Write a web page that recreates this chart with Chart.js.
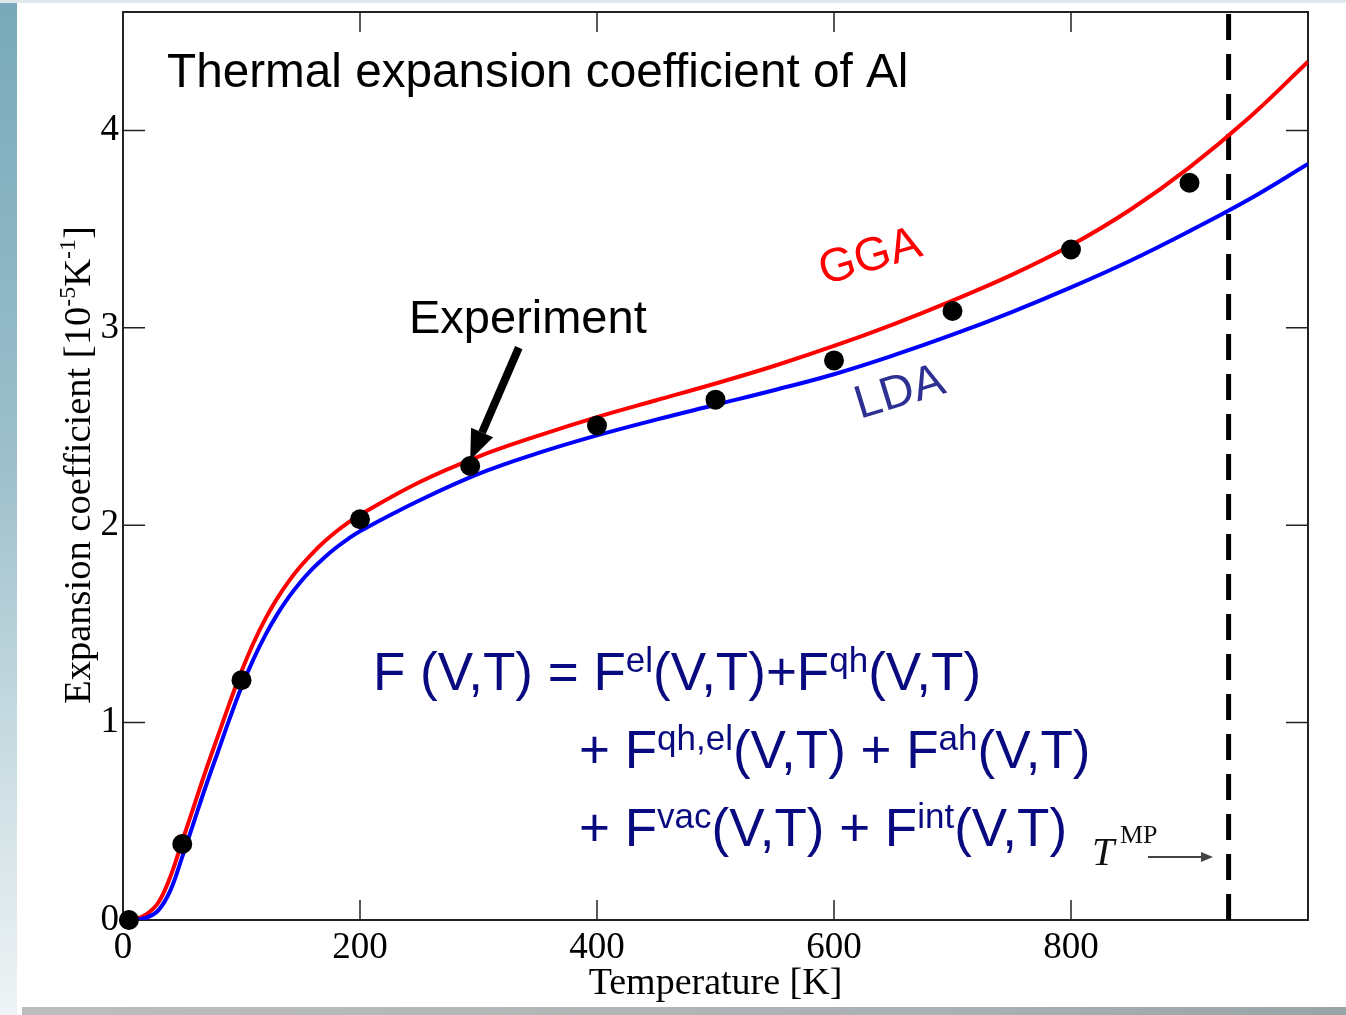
<!DOCTYPE html>
<html>
<head>
<meta charset="utf-8">
<script src="https://cdn.jsdelivr.net/npm/chart.js@4.4.1/dist/chart.umd.min.js"></script>
<style>
    html, body { margin: 0; padding: 0; background: #fff; }
    #page { position: relative; width: 1346px; height: 1015px; overflow: hidden; background: #fff; }
    .edge-left { position: absolute; left: 0; top: 0; width: 17px; height: 1015px;
        background: linear-gradient(to bottom, #78a9ba 0%, #9cbfcb 45%, #d3e2e7 80%, #eef3f5 100%); }
    .edge-top { position: absolute; left: 0; top: 0; width: 1346px; height: 3px; background: #dfe8eb; }
    .edge-bottom { position: absolute; left: 22px; top: 1007px; width: 1324px; height: 8px;
        background: linear-gradient(to right, #bdbdbd, #aab1b3 70%, #98a4a8); }
    canvas { position: absolute; left: 0; top: 0; }
</style>
</head>
<body>
<div id="page">
    <div class="edge-left"></div>
    <div class="edge-top"></div>
    <div class="edge-bottom"></div>
    <canvas id="alphaChart" width="1346" height="1015"></canvas>
</div>
<script>
// temperatures [K] where the calculated curves are sampled
const temps = [0, 10, 20, 30, 40, 50, 60, 70, 80, 90, 100, 110, 120, 130, 140, 150, 160, 170, 180, 190, 200,
    250, 300, 350, 400, 450, 500, 550, 600, 650, 700, 750, 800, 850, 900, 950, 1000];
// expansion coefficient [1e-5 1/K]
const ggaAlpha = [0, 0.003, 0.03, 0.09, 0.22, 0.40, 0.58, 0.76, 0.93, 1.10, 1.26, 1.402, 1.524, 1.628, 1.717,
    1.793, 1.859, 1.917, 1.968, 2.013, 2.053, 2.218, 2.348, 2.453, 2.548, 2.633, 2.718, 2.808, 2.908, 3.018,
    3.138, 3.268, 3.418, 3.598, 3.813, 4.063, 4.348];
const ldaAlpha = [0, 0.001, 0.012, 0.05, 0.15, 0.32, 0.50, 0.68, 0.85, 1.02, 1.18, 1.32, 1.442, 1.547, 1.637,
    1.714, 1.78, 1.837, 1.887, 1.931, 1.97, 2.125, 2.26, 2.365, 2.455, 2.535, 2.61, 2.685, 2.765, 2.86,
    2.965, 3.08, 3.205, 3.34, 3.49, 3.65, 3.83];

const expTemps = [5, 50, 100, 200, 293, 400, 500, 600, 700, 800, 900];
const expAlpha = [0, 0.385, 1.215, 2.03, 2.30, 2.505, 2.636, 2.835, 3.085, 3.397, 3.735];

const meltTemp = 933;
const xTickValues = [0, 200, 400, 600, 800];
const yTickValues = [0, 1, 2, 3, 4];

const SERIF = '"Liberation Serif", "Times New Roman", serif';
const SANS = '"Liberation Sans", Arial, sans-serif';

function toPoints(xs, ys) {
    return xs.map((x, i) => ({ x: x, y: ys[i] }));
}

function drawRich(ctx, parts, x, y, size, supSize, rise, family) {
    let cx = x;
    parts.forEach(([txt, sup]) => {
        ctx.font = `${sup ? supSize : size}px ${family}`;
        ctx.fillText(txt, cx, sup ? y - rise : y);
        cx += ctx.measureText(txt).width;
    });
    return cx - x;
}

function richWidth(ctx, parts, size, supSize, family) {
    let w = 0;
    parts.forEach(([txt, sup]) => {
        ctx.font = `${sup ? supSize : size}px ${family}`;
        w += ctx.measureText(txt).width;
    });
    return w;
}

const framePlugin = {
    id: 'frame',
    beforeDatasetsDraw(chart) {
        const { ctx, chartArea: a, scales: { x, y } } = chart;
        ctx.save();
        ctx.strokeStyle = '#222';
        ctx.lineWidth = 1.5;
        xTickValues.forEach(v => {
            const px = x.getPixelForValue(v);
            ctx.beginPath();
            ctx.moveTo(px, a.bottom); ctx.lineTo(px, a.bottom - 20);
            ctx.moveTo(px, a.top); ctx.lineTo(px, a.top + 20);
            ctx.stroke();
        });
        yTickValues.forEach(v => {
            const py = y.getPixelForValue(v);
            ctx.beginPath();
            ctx.moveTo(a.left, py); ctx.lineTo(a.left + 22, py);
            ctx.moveTo(a.right, py); ctx.lineTo(a.right - 22, py);
            ctx.stroke();
        });
        ctx.lineWidth = 2;
        ctx.strokeRect(a.left, a.top, a.right - a.left, a.bottom - a.top);
        ctx.restore();
    }
};

const notesPlugin = {
    id: 'notes',
    afterDraw(chart) {
        const { ctx, scales: { x, y } } = chart;
        ctx.save();
        ctx.textBaseline = 'alphabetic';
        ctx.textAlign = 'left';

        // y axis title with superscripts
        const yParts = [['Expansion coefficient [10', false], ['-5', true], ['K', false], ['-1', true], [']', false]];
        ctx.save();
        ctx.translate(90, 465);
        ctx.rotate(-Math.PI / 2);
        ctx.fillStyle = '#000';
        const yw = richWidth(ctx, yParts, 38.5, 24, SERIF);
        drawRich(ctx, yParts, -yw / 2, 0, 38.5, 24, 15, SERIF);
        ctx.restore();

        // title
        ctx.fillStyle = '#000';
        ctx.font = `47.7px ${SANS}`;
        ctx.fillText('Thermal expansion coefficient of Al', 167, 87);

        // Experiment label + arrow to the room temperature point
        ctx.font = `47px ${SANS}`;
        ctx.fillText('Experiment', 409, 333);
        const tipX = x.getPixelForValue(293), tipY = y.getPixelForValue(2.33);
        const tailX = x.getPixelForValue(334), tailY = y.getPixelForValue(2.90);
        const ang = Math.atan2(tipY - tailY, tipX - tailX);
        const headLen = 30, headHalf = 12;
        const baseX = tipX - headLen * Math.cos(ang), baseY = tipY - headLen * Math.sin(ang);
        ctx.strokeStyle = '#000';
        ctx.lineWidth = 8;
        ctx.beginPath();
        ctx.moveTo(tailX, tailY); ctx.lineTo(baseX, baseY);
        ctx.stroke();
        ctx.beginPath();
        ctx.moveTo(tipX, tipY);
        ctx.lineTo(baseX + headHalf * Math.sin(ang), baseY - headHalf * Math.cos(ang));
        ctx.lineTo(baseX - headHalf * Math.sin(ang), baseY + headHalf * Math.cos(ang));
        ctx.closePath();
        ctx.fill();

        // curve labels
        ctx.save();
        ctx.translate(824, 285);
        ctx.rotate(-16.5 * Math.PI / 180);
        ctx.fillStyle = '#ff0000';
        ctx.font = `47px ${SANS}`;
        ctx.fillText('GGA', 0, 0);
        ctx.restore();

        ctx.save();
        ctx.translate(860, 419);
        ctx.rotate(-17 * Math.PI / 180);
        ctx.fillStyle = '#2e3192';
        ctx.font = `47px ${SANS}`;
        ctx.fillText('LDA', 0, 0);
        ctx.restore();

        // free energy formula
        ctx.fillStyle = '#0a0a80';
        drawRich(ctx, [['F (V,T) = F', false], ['el', true], ['(V,T)+F', false], ['qh', true], ['(V,T)', false]],
            373, 690, 53, 35, 18, SANS);
        drawRich(ctx, [['+ F', false], ['qh,el', true], ['(V,T) + F', false], ['ah', true], ['(V,T)', false]],
            579, 768, 53, 35, 18, SANS);
        drawRich(ctx, [['+ F', false], ['vac', true], ['(V,T) + F', false], ['int', true], ['(V,T)', false]],
            579, 846, 53, 35, 18, SANS);

        // T^MP marker
        ctx.fillStyle = '#111';
        ctx.font = `italic 40px ${SERIF}`;
        ctx.fillText('T', 1092, 865);
        ctx.font = `26px ${SERIF}`;
        ctx.fillText('MP', 1120, 843);
        ctx.strokeStyle = '#444';
        ctx.fillStyle = '#444';
        ctx.lineWidth = 2;
        ctx.beginPath();
        ctx.moveTo(1148, 857); ctx.lineTo(1204, 857);
        ctx.stroke();
        ctx.beginPath();
        ctx.moveTo(1213, 857); ctx.lineTo(1201, 852); ctx.lineTo(1201, 862);
        ctx.closePath();
        ctx.fill();

        ctx.restore();
    }
};

new Chart(document.getElementById('alphaChart'), {
    type: 'scatter',
    data: {
        datasets: [
            {
                label: 'Experiment',
                data: toPoints(expTemps, expAlpha),
                showLine: false,
                pointRadius: 10,
                pointBackgroundColor: '#000',
                pointBorderWidth: 0,
                clip: false,
                order: 0
            },
            {
                label: 'LDA',
                data: toPoints(temps, ldaAlpha),
                showLine: true,
                borderColor: '#0000ff',
                borderWidth: 4,
                pointRadius: 0,
                tension: 0.4,
                order: 1
            },
            {
                label: 'GGA',
                data: toPoints(temps, ggaAlpha),
                showLine: true,
                borderColor: '#ff0000',
                borderWidth: 4,
                pointRadius: 0,
                tension: 0.4,
                order: 2
            },
            {
                label: 'T_MP',
                data: [{ x: meltTemp, y: 0 }, { x: meltTemp, y: 4.6 }],
                showLine: true,
                borderColor: '#000',
                borderWidth: 5,
                borderDash: [26, 14],
                pointRadius: 0,
                order: 3
            }
        ]
    },
    options: {
        responsive: false,
        animation: false,
        events: [],
        layout: { padding: { left: 0, top: 12, right: 38, bottom: 0 } },
        plugins: {
            legend: { display: false },
            tooltip: { enabled: false }
        },
        scales: {
            x: {
                type: 'linear',
                min: 0,
                max: 1000,
                grid: { display: false, drawTicks: false },
                border: { display: false },
                afterBuildTicks: s => { s.ticks = xTickValues.map(v => ({ value: v })); },
                afterFit: s => { s.height = 95; s.paddingLeft = 0; s.paddingRight = 0; },
                ticks: {
                    color: '#000',
                    padding: 6,
                    maxRotation: 0,
                    font: { family: SERIF, size: 37 }
                },
                title: {
                    display: true,
                    text: 'Temperature [K]',
                    color: '#000',
                    font: { family: SERIF, size: 38 },
                    padding: { top: 0, bottom: 8 }
                }
            },
            y: {
                type: 'linear',
                min: 0,
                max: 4.6,
                grid: { display: false, drawTicks: false },
                border: { display: false },
                afterBuildTicks: s => { s.ticks = yTickValues.map(v => ({ value: v })); },
                afterFit: s => { s.width = 123; s.paddingTop = 0; s.paddingBottom = 0; },
                ticks: {
                    color: '#000',
                    padding: 4,
                    font: { family: SERIF, size: 37 }
                }
            }
        }
    },
    plugins: [framePlugin, notesPlugin]
});
</script>
</body>
</html>
